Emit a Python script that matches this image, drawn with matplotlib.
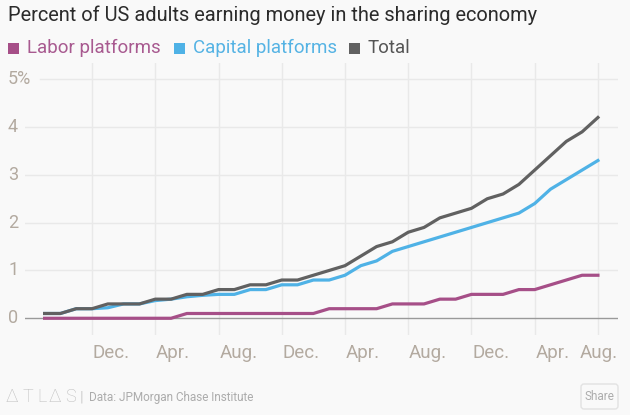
import matplotlib
matplotlib.use('Agg')
import matplotlib.pyplot as plt
from matplotlib.patches import Rectangle, FancyBboxPatch
from matplotlib.transforms import Affine2D, blended_transform_factory
import numpy as np
import pandas as pd

# ---------------- data ----------------
months = pd.date_range('2012-09-01', periods=36, freq='MS')
labor = [0.0, 0.0, 0.0, 0.0, 0.0, 0.0, 0.0, 0.0, 0.0, 0.1, 0.1, 0.1,
         0.1, 0.1, 0.1, 0.1, 0.1, 0.1, 0.2, 0.2, 0.2, 0.2, 0.3, 0.3,
         0.3, 0.4, 0.4, 0.5, 0.5, 0.5, 0.6, 0.6, 0.7, 0.8, 0.9, 0.9]
capital = [0.1, 0.1, 0.2, 0.2, 0.22, 0.3, 0.3, 0.37, 0.4, 0.45, 0.48, 0.5,
           0.5, 0.6, 0.6, 0.7, 0.7, 0.8, 0.8, 0.9, 1.1, 1.2, 1.4, 1.5,
           1.6, 1.7, 1.8, 1.9, 2.0, 2.1, 2.2, 2.4, 2.7, 2.9, 3.1, 3.3]
total = [0.1, 0.1, 0.2, 0.2, 0.3, 0.3, 0.3, 0.4, 0.4, 0.5, 0.5, 0.6,
         0.6, 0.7, 0.7, 0.8, 0.8, 0.9, 1.0, 1.1, 1.3, 1.5, 1.6, 1.8,
         1.9, 2.1, 2.2, 2.3, 2.5, 2.6, 2.8, 3.1, 3.4, 3.7, 3.9, 4.2]
series_names = ['Labor platforms', 'Capital platforms', 'Total']
yticks = [0, 1, 2, 3, 4, 5]
ytick_labels = ['0', '1', '2', '3', '4', '5%']
title = 'Percent of US adults earning money in the sharing economy'
source = 'Data: JPMorgan Chase Institute'

# ---------------- style ----------------
W, H = 630, 415
BG = '#f9f9f9'
C_LABOR = '#a64f88'
C_CAP = '#4fb2e6'
C_TOT = '#616161'
GRID = '#e9e9e9'
TICK = '#b3aaa0'
plt.rcParams['font.family'] = ['Roboto', 'DejaVu Sans']

fig = plt.figure(figsize=(W / 100, H / 100), dpi=100, facecolor=BG)
px = Affine2D().scale(1 / W, 1 / H) + fig.transFigure


def fy(y):
    return H - y


ax = fig.add_axes([25 / W, (H - 335) / H, 593 / W, 272 / H])
ax.set_facecolor(BG)
x = np.arange(len(months))
ax.set_xlim(-1.24, 36.27)
ax.set_ylim(-0.35, 5.34)
for s in ax.spines.values():
    s.set_visible(False)
ax.set_xticks([])
ax.set_yticks([])

# grid
tick_idx = [i for i, m in enumerate(months) if m.month in (12, 4, 8)]
for i in tick_idx:
    ax.axvline(x[i], color=GRID, lw=1, zorder=0)
for v in yticks[1:]:
    ax.axhline(v, xmin=(15 / 593 if v == 5 else 0), color=GRID, lw=1, zorder=0)
ax.axhline(0, color='#9a9a9a', lw=1, zorder=1)

# lines
ax.plot(x, labor, color=C_LABOR, lw=2.3, zorder=3, solid_joinstyle='round')
ax.plot(x, capital, color=C_CAP, lw=2.3, zorder=4, solid_joinstyle='round')
ax.plot(x, total, color=C_TOT, lw=2.3, zorder=5, solid_joinstyle='round')

# y labels
ytr = blended_transform_factory(ax.transAxes, ax.transData)
for v, lab in zip(yticks, ytick_labels):
    ax.text(-17 / 593, v, lab, transform=ytr, ha='left', va='center',
            fontsize=13, color=TICK)

# x labels
xtr = blended_transform_factory(ax.transData, ax.transAxes)
labels = [months[i].strftime('%b') + '.' for i in tick_idx]
for k, (i, lab) in enumerate(zip(tick_idx, labels)):
    if k == len(tick_idx) - 1:
        ax.text(1.0, -0.066, lab, transform=ax.transAxes, ha='right',
                va='center', fontsize=13.5, color=TICK)
    else:
        ax.text(x[i] + 0.05, -0.066, lab, transform=xtr, ha='left',
                va='center', fontsize=13.5, color=TICK)

# title
fig.text(8, fy(15), title, transform=px, ha='left', va='center',
         fontsize=14.4, color='#2b2b2b')

# legend
leg_x = [8, 174, 349]
for lx, name, c, tc in zip(leg_x, series_names, [C_LABOR, C_CAP, C_TOT],
                           ['#a85a90', '#55b3e4', '#555555']):
    fig.add_artist(Rectangle((lx, fy(54)), 11, 11, transform=px,
                             facecolor=c, edgecolor='none'))
    fig.text(lx + 19, fy(48), name, transform=px, ha='left', va='center',
             fontsize=13.5, color=tc)

# footer
for lx, ch in zip([5, 23, 37, 48, 65], ['Δ', 'T', 'L', 'Δ', 'S']):
    fig.text(lx, fy(397), ch, transform=px, ha='left', va='center',
             fontsize=13, color='#bdbdbd', fontweight='light')
fig.text(82, fy(397), '|', transform=px, ha='center', va='center',
         fontsize=11, color='#d0d0d0')
fig.text(89, fy(397), source, transform=px, ha='left', va='center',
         fontsize=8.5, color='#acacac')
fig.add_artist(FancyBboxPatch((581, fy(409)), 37, 25, transform=px,
                              boxstyle='round,pad=0,rounding_size=3',
                              facecolor=BG, edgecolor='#e2e2e2', lw=1))
fig.text(599.5, fy(396.5), 'Share', transform=px, ha='center', va='center',
         fontsize=8.5, color='#acacac')

fig.savefig('out.png', dpi=100, facecolor=BG)
